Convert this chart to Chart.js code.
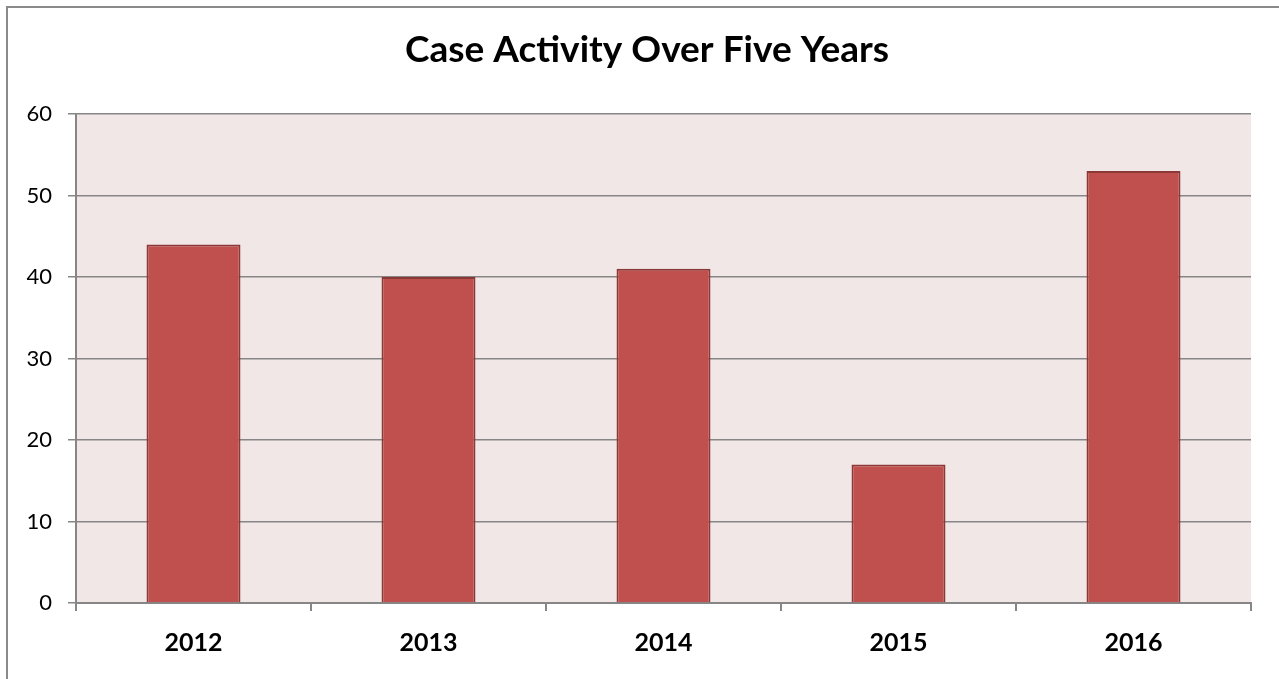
<!DOCTYPE html>
<html>
<head>
<meta charset="utf-8">
<script src="https://cdn.jsdelivr.net/npm/chart.js@4"></script>
<style>
  html, body { margin: 0; padding: 0; background: #ffffff; overflow: hidden; width: 1279px; height: 679px; }
  #wrap { position: relative; width: 1279px; height: 679px; overflow: hidden; }
  #frame { position: absolute; left: 6px; top: 6px; width: 1400px; height: 800px; border-left: 2px solid #8a8a8a; border-top: 2px solid #8a8a8a; }
  canvas { position: absolute; left: 0; top: 0; }
</style>
</head>
<body>
<div id="wrap">
  <div id="frame"></div>
  <canvas id="c" width="1294" height="679" style="width:1294px;height:679px"></canvas>
</div>
<script>
const chartTitle = "Case Activity Over Five Years";
const categories = ["2012", "2013", "2014", "2015", "2016"];
const caseValues = [44, 40, 41, 17, 53];
const yTicks = [0, 10, 20, 30, 40, 50, 60];

const plotBg = {
  id: 'plotBg',
  beforeDraw(chart) {
    const a = chart.chartArea, ctx = chart.ctx;
    ctx.save();
    ctx.fillStyle = '#F2E7E7';
    ctx.fillRect(a.left, a.top, a.right - a.left, a.bottom - a.top);
    ctx.restore();
  }
};

new Chart(document.getElementById('c'), {
  type: 'bar',
  data: {
    labels: categories,
    datasets: [{
      data: caseValues,
      backgroundColor: '#C0504D',
      borderColor: '#8C3836',
      borderWidth: 2,
      barPercentage: 0.4,
      categoryPercentage: 1.0
    }]
  },
  options: {
    responsive: false,
    animation: false,
    devicePixelRatio: 1,
    layout: { padding: { left: 0, right: 0, top: 0, bottom: 0 } },
    plugins: {
      legend: { display: false },
      tooltip: { enabled: false },
      title: {
        display: true,
        text: chartTitle,
        color: '#000000',
        font: { family: 'Lato', size: 37, weight: 'bold', lineHeight: 1.2 },
        padding: { top: 28, bottom: 41.6 }
      }
    },
    scales: {
      x: {
        grid: { display: true, drawOnChartArea: false, drawTicks: true, tickLength: 8, color: '#868686', lineWidth: 2, offset: true },
        border: { display: true, color: '#868686', width: 2 },
        ticks: { color: '#000000', font: { family: 'Lato', size: 25, weight: 'bold' }, padding: 17, maxRotation: 0 },
        afterFit(scale) { scale.height = 76; }
      },
      y: {
        min: 0, max: 60,
        afterBuildTicks(scale) { scale.ticks = yTicks.map(v => ({ value: v })); },
        grid: { color: '#868686', lineWidth: 1.5, tickLength: 8 },
        border: { display: true, color: '#868686', width: 2 },
        ticks: { color: '#000000', font: { family: 'Lato', size: 22 }, padding: 16 },
        afterFit(scale) { scale.width = 76; }
      },
      yRightSpacer: {
        type: 'linear',
        position: 'right',
        min: 0, max: 60,
        grid: { display: false, drawTicks: false },
        border: { display: false },
        ticks: { display: false },
        afterFit(scale) { scale.width = 43; }
      }
    }
  },
  plugins: [plotBg]
});
</script>
</body>
</html>
